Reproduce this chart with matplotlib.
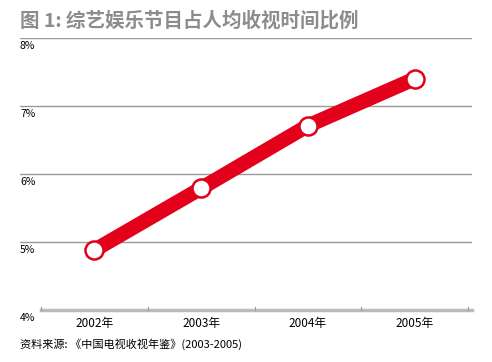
import matplotlib.pyplot as plt

plt.rcParams['font.family'] = ['Noto Sans CJK SC', 'DejaVu Sans']

years = ['2002年', '2003年', '2004年', '2005年']
share = [4.88, 5.79, 6.71, 7.40]
y_ticks = [4, 5, 6, 7, 8]
y_labels = ['4%', '5%', '6%', '7%', '8%']

red = '#e2001a'
grey = '#999999'

W, H = 492, 362
fig = plt.figure(figsize=(W / 100, H / 100), dpi=100)

# axes spans the gridlines: x 20..472 px, y 38 (8%) .. 310 (4%)
ax = fig.add_axes([20 / W, 1 - 310 / H, 452 / W, 272 / H])
unit = (468 - 41) / 4
xmin = -0.5 - (41 - 20) / unit
xmax = 3.5 + (472 - 468) / unit
ax.set_xlim(xmin, xmax)
ax.set_ylim(4, 8)
ax.axis('off')

for v, lab in zip(y_ticks, y_labels):
    if v > 4:
        ax.axhline(v, color=grey, lw=1.0, zorder=1)
    ax.annotate(lab, (xmin, v), xytext=(0, -2), textcoords='offset points',
                ha='left', va='top', fontsize=7.5, color='black')

# bottom axis
ax.plot([-0.5, xmax], [4, 4], color='#bbbbbb', lw=2.5, clip_on=False, zorder=1)
for i in range(5):
    ax.plot([i - 0.5, i - 0.5], [4, 4.05], color=grey, lw=0.8, clip_on=False)

xs = range(len(years))
for x, lab in zip(xs, years):
    ax.annotate(lab, (x, 4), xytext=(0, -5), textcoords='offset points',
                ha='center', va='top', fontsize=8.5, color='black')

ax.plot(xs, share, color=red, lw=10.5, solid_capstyle='butt', zorder=3)
ax.plot(xs, share, 'o', ms=13, mfc='white', mec=red, mew=1.8, zorder=4)

fig.text(20 / W, 1 - 21 / H, '图 1: 综艺娱乐节目占人均收视时间比例', fontsize=14,
         fontweight='bold', color='#8c8c8c', ha='left', va='center')
fig.text(20 / W, 1 - 344 / H, '资料来源: 《中国电视收视年鉴》(2003-2005)', fontsize=8,
         color='black', ha='left', va='center')

fig.savefig('out.png', dpi=100)
